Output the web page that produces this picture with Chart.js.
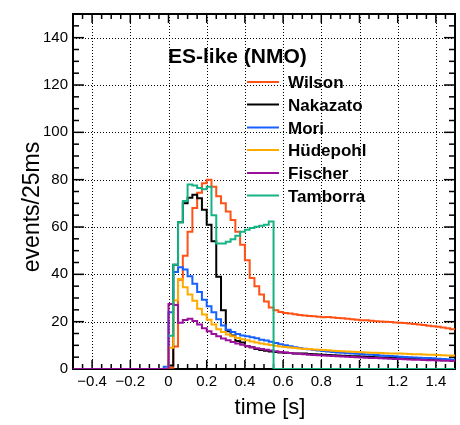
<!DOCTYPE html>
<html><head><meta charset="utf-8">
<script src="https://cdn.jsdelivr.net/npm/chart.js@4"></script>
<style>html,body{margin:0;padding:0;background:#fff}canvas{display:block}</style>
</head><body>
<canvas id="c" width="460" height="425"></canvas>
<script>
const binStart = -0.5;
const binWidth = 0.025;
const xMin = -0.5, xMax = 1.5, yMin = 0, yMax = 150;
const xTickValues = [-0.4, -0.2, 0, 0.2, 0.4, 0.6, 0.8, 1, 1.2, 1.4];
const xTickLabels = ['\u22120.4', '\u22120.2', '0', '0.2', '0.4', '0.6', '0.8', '1', '1.2', '1.4'];
const yTickValues = [0, 20, 40, 60, 80, 100, 120, 140];
const yTickLabels = ['0', '20', '40', '60', '80', '100', '120', '140'];
const legendTitle = 'ES-like (NMO)';
const xTitle = 'time [s]';
const yTitle = 'events/25ms';
const seriesNames = ['Wilson', 'Nakazato', 'Mori', 'H\u00fcdepohl', 'Fischer', 'Tamborra'];
const seriesColors = ['#ff5216', '#000000', '#1660ff', '#ffab00', '#9a109a', '#16b384'];

const wilson = [0,0,0,0,0,0,0,0,0,0, 0,0,0,0,0,0,0,0,0,0,
  0.5,9.5,37.7,47.8,58,68,74.5,78.5,80,77,
  73,70,66.5,63,58,52.5,46,38.5,35,31.5,
  28.5,26,24.8,24.1,23.7,23.4,23.1,22.8,22.6,22.4,
  22.3,22.1,21.9,22.0,21.8,21.5,21.4,21.2,21.0,20.8,
  20.6,20.6,20.4,20.2,20.1,20.0,19.9,19.7,19.5,19.4,
  19.2,19.0,18.8,18.6,18.3,18.1,17.8,17.5,17.2,16.8];
const nakazato = [0,0,0,0,0,0,0,0,0,0, 0,0,0,0,0,0,0,0,0,0,
  1.5,44,62,70,72.4,73.6,72.2,67.3,61,54,
  39,24.8,16,14.2,11.8,11.2,9.6,9.2,8.5,8.0,
  7.7,7.4,7.2,7.0,6.9,6.8,6.6,6.6,6.5,6.3,
  6.2,6.1,6.0,5.9,5.8,5.7,5.6,5.5,5.4,5.4,
  5.3,5.2,5.1,5.0,4.9,4.9,4.8,4.7,4.6,4.5,
  4.5,4.4,4.3,4.2,4.1,4.1,4.0,3.9,3.8,3.8];
const mori = [0,0,0,0,0,0,0,0,0,0, 0,0,0,0,0,0,0,0,0,1.0,
  24,41,43,42,39.2,36,32.5,29.3,26.5,24,
  21,18.4,16.6,15.6,14.8,14.2,13.8,13.4,13.0,12.4,
  12.0,11.5,11.0,10.5,10.0,9.6,9.2,8.9,8.6,8.3,
  8.0,7.8,7.6,7.4,7.2,7.0,6.9,6.7,6.6,6.4,
  6.3,6.1,6.0,5.9,5.7,5.6,5.5,5.4,5.2,5.1,
  5.0,4.9,4.8,4.7,4.6,4.5,4.3,4.2,4.1,4.0];
const huedepohl = [0,0,0,0,0,0,0,0,0,0, 0,0,0,0,0,0,0,0,0,0,
  9,29,38,34.5,31.5,28.8,25.5,23,20.8,18.8,
  16.8,15.6,14.6,13.8,13.1,12.6,12.1,11.6,11.2,10.8,
  10.5,10.1,9.8,9.5,9.3,9.1,8.9,8.7,8.5,8.4,
  8.2,8.1,8.0,7.9,7.7,7.6,7.5,7.4,7.3,7.2,
  7.1,7.0,6.9,6.9,6.8,6.7,6.6,6.5,6.5,6.4,
  6.3,6.2,6.2,6.1,6.0,6.0,5.9,5.8,5.7,5.7];
const fischer = [0,0,0,0,0,0,0,0,0,0, 0,0,0,0,0,0,0,0,0,0,
  27.5,27,19.5,20.7,21.2,20.3,18.8,17.2,16,14.8,
  13.8,12.9,12.2,11.4,10.8,10.2,9.7,9.2,8.8,8.4,
  8.1,7.8,7.5,7.2,7.0,6.8,6.6,6.4,6.2,6.0,
  5.9,5.8,5.7,5.6,5.5,5.4,5.3,5.2,5.1,5.0,
  4.9,4.8,4.7,4.6,4.5,4.4,4.3,4.2,4.2,4.1,
  4.0,3.9,3.9,3.8,3.7,3.7,3.6,3.5,3.5,3.4];
const tamborra = [null,null,null,null,null,null,null,null,null,null,
  null,null,null,null,null,null,null,null,null,null,
  14,44,62,71,78,77.5,76.5,76,77,65,
  53,53,53.8,54.8,56.3,58,58.8,59.6,60.1,60.5,
  61,62.3,0,0,0,0,0,0,0,0,
  0,0,0,0,0,0,0,0,0,0,
  0,0,0,0,0,0,0,0,0,0,
  0,0,0,0,0,0,0,0,0,0];

const seriesValues = [wilson, nakazato, mori, huedepohl, fischer, tamborra];

function toPoints(vals) {
  const pts = vals.map((v, i) => ({x: binStart + i * binWidth, y: v}));
  pts.push({x: binStart + vals.length * binWidth, y: vals[vals.length - 1]});
  return pts;
}

const FONT = '"Liberation Sans", Arial, Helvetica, sans-serif';

function seg(ctx, x1, y1, x2, y2) {
  ctx.beginPath(); ctx.moveTo(x1, y1); ctx.lineTo(x2, y2); ctx.stroke();
}

const framePlugin = {
  id: 'rootFrame',
  beforeDatasetsDraw(chart) {
    const {ctx, chartArea: a, scales: {x, y}} = chart;
    ctx.save();
    ctx.strokeStyle = '#000';
    ctx.lineWidth = 1;
    ctx.setLineDash([1, 2]);
    xTickValues.forEach(v => {
      const px = Math.round(x.getPixelForValue(v)) + 0.5;
      seg(ctx, px, a.top, px, a.bottom);
    });
    yTickValues.forEach(v => {
      if (v === yMin) return;
      const py = Math.round(y.getPixelForValue(v)) + 0.5;
      seg(ctx, a.left, py, a.right, py);
    });
    ctx.setLineDash([]);
    ctx.lineWidth = 2;
    ctx.strokeRect(a.left, a.top, a.right - a.left, a.bottom - a.top);
    ctx.lineWidth = 1.5;
    for (let i = -9; i < 30; i++) {
      const px = x.getPixelForValue(i * 0.05);
      const len = (i % 4 === 0) ? 9 : 5;
      seg(ctx, px, a.bottom, px, a.bottom - len);
      seg(ctx, px, a.top, px, a.top + len);
    }
    for (let i = 1; i < 30; i++) {
      const py = y.getPixelForValue(i * 5);
      const len = (i % 4 === 0) ? 11 : 6;
      seg(ctx, a.left, py, a.left + len, py);
      seg(ctx, a.right, py, a.right - len, py);
    }
    ctx.restore();
  },
  afterDatasetsDraw(chart) {
    const {ctx} = chart;
    ctx.save();
    ctx.fillStyle = '#000';
    ctx.textBaseline = 'alphabetic';
    ctx.textAlign = 'left';
    ctx.font = 'bold 21px ' + FONT;
    ctx.fillText(legendTitle, 168, 62.5);
    const rows = [82, 104.5, 127.5, 150, 173, 195.5];
    ctx.font = 'bold 17px ' + FONT;
    seriesNames.forEach((name, i) => {
      ctx.strokeStyle = seriesColors[i];
      ctx.lineWidth = 2;
      seg(ctx, 247, rows[i], 279, rows[i]);
      ctx.fillText(name, 288, rows[i] + 6);
    });
    ctx.font = '22px ' + FONT;
    ctx.textAlign = 'center';
    ctx.fillText(xTitle, 270, 414);
    ctx.font = '23px ' + FONT;
    ctx.translate(38.5, 207);
    ctx.rotate(-Math.PI / 2);
    ctx.fillText(yTitle, 0, 0);
    ctx.restore();
  }
};

new Chart(document.getElementById('c'), {
  type: 'line',
  data: {
    datasets: seriesValues.map((vals, i) => ({
      label: seriesNames[i],
      data: toPoints(vals),
      borderColor: seriesColors[i],
      backgroundColor: seriesColors[i],
      borderWidth: 2,
      pointRadius: 0,
      stepped: 'before',
      fill: false,
      spanGaps: false,
      order: seriesNames.length - i
    }))
  },
  options: {
    responsive: false,
    animation: false,
    devicePixelRatio: 1,
    layout: {padding: {top: 2, right: 5, left: 0, bottom: 0}},
    plugins: {legend: {display: false}, tooltip: {enabled: false}},
    scales: {
      x: {
        type: 'linear', min: xMin, max: xMax,
        afterBuildTicks: s => { s.ticks = xTickValues.map(v => ({value: v})); },
        afterFit: s => { s.height = 56; },
        grid: {display: false, drawTicks: false},
        border: {display: false},
        ticks: {autoSkip: false, maxRotation: 0, minRotation: 0, padding: 4, color: '#000',
          font: {family: FONT, size: 15},
          callback: (v, i) => xTickLabels[i]}
      },
      y: {
        type: 'linear', min: yMin, max: yMax,
        afterBuildTicks: s => { s.ticks = yTickValues.map(v => ({value: v})); },
        afterFit: s => { s.width = 73; },
        grid: {display: false, drawTicks: false},
        border: {display: false},
        ticks: {autoSkip: false, padding: 5, color: '#000',
          font: {family: FONT, size: 15},
          callback: (v, i) => yTickLabels[i]}
      }
    }
  },
  plugins: [framePlugin]
});
</script>
</body></html>
